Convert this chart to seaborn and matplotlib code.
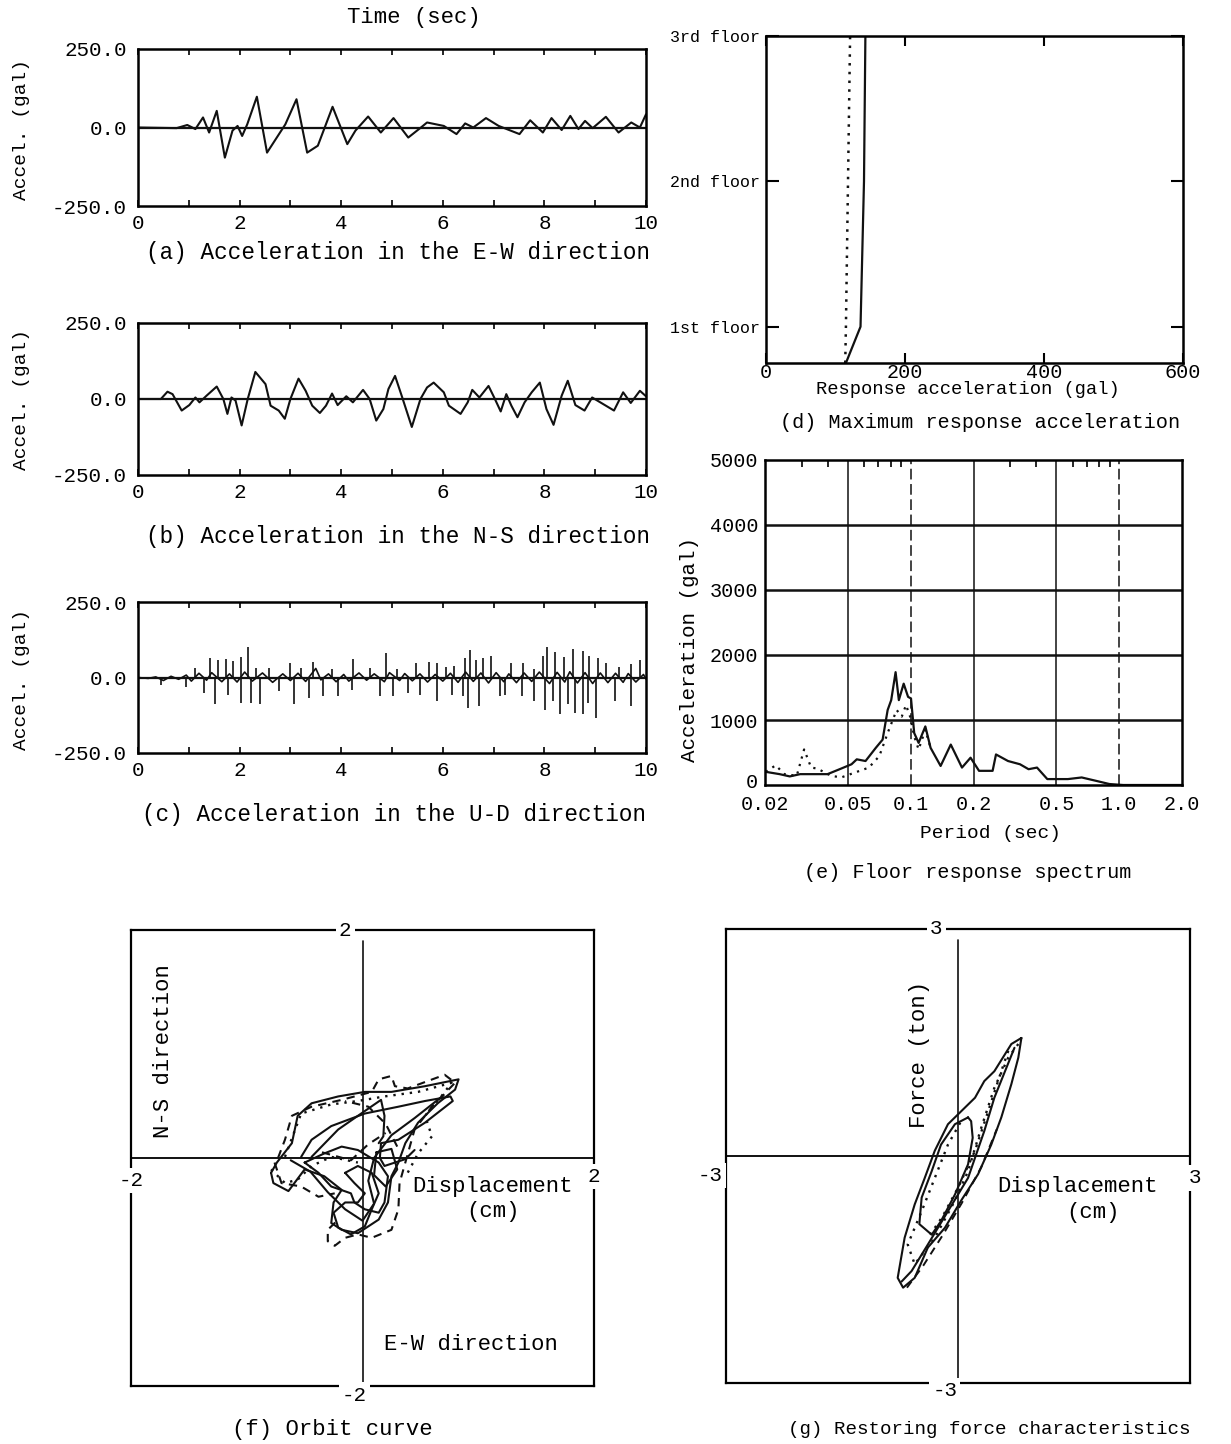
import matplotlib
matplotlib.use("Agg")
import matplotlib.pyplot as plt
import matplotlib.transforms as mtransforms
import seaborn as sns

sns.set_theme(style="white")
plt.rcParams["font.family"] = ["Liberation Mono", "DejaVu Sans Mono"]
plt.rcParams["axes.edgecolor"] = "black"
plt.rcParams["axes.linewidth"] = 1.8
plt.rcParams["text.color"] = "black"
plt.rcParams["xtick.color"] = "black"
plt.rcParams["ytick.color"] = "black"

INK = "#111111"
DASHED = (0, (4, 3))
DOTTED = (0, (1, 2.5))

# ---------------- time histories (sec, gal) ----------------
ew_time = [0.0, 0.76, 0.97, 1.13, 1.28, 1.40, 1.55, 1.71, 1.86, 1.96, 2.05, 2.15, 2.34, 2.54,
           2.90, 3.12, 3.33, 3.54, 3.83, 4.12, 4.28, 4.53, 4.78, 5.03, 5.32, 5.57, 5.69, 6.02,
           6.27, 6.44, 6.60, 6.85, 7.10, 7.51, 7.72, 7.97, 8.14, 8.34, 8.51, 8.67, 8.80, 8.95,
           9.21, 9.46, 9.71, 9.88, 10.0]
ew_accel = [0, -2, 8, -5, 32, -16, 53, -96, -10, 5, -27, 10, 98, -80,
            10, 90, -80, -58, 66, -53, -10, 35, -16, 30, -32, 0, 16, 5,
            -21, 13, 0, 30, 5, -21, 23, -16, 30, -8, 37, -5, 21, -2,
            34, -16, 16, 0, 42]

ns_time = [0.0, 0.45, 0.58, 0.68, 0.86, 1.01, 1.13, 1.21, 1.35, 1.55,
           1.68, 1.76, 1.84, 1.92, 2.04, 2.16, 2.31, 2.51, 2.61, 2.77,
           2.89, 3.00, 3.16, 3.30, 3.43, 3.58, 3.70, 3.82, 3.93, 4.10,
           4.23, 4.43, 4.56, 4.69, 4.83, 4.93, 5.06, 5.19, 5.39, 5.56,
           5.69, 5.82, 6.02, 6.12, 6.35, 6.49, 6.58, 6.72, 6.90, 7.02,
           7.14, 7.25, 7.35, 7.47, 7.61, 7.75, 7.91, 8.04, 8.18, 8.34,
           8.46, 8.61, 8.79, 8.94, 9.10, 9.37, 9.55, 9.70, 9.88, 10.0]
ns_accel = [0, 0, 24, 16, -38, -20, 5, -11, 11, 41,
            0, -49, 5, -5, -87, 0, 89, 49, -22, -38,
            -65, 0, 67, 27, -22, -46, -22, 18, -20, 9,
            -11, 30, 0, -71, -33, 33, 76, 11, -92, 0,
            38, 54, 22, -22, -49, -11, 30, 5, 43, 2,
            -41, 16, -22, -60, -11, 22, 54, -33, -85, 11,
            60, -20, -38, 5, -11, -38, 22, -13, 27, 9]

ud_base_time = [0.0, 0.2, 0.35, 0.5, 0.65, 0.8, 0.95, 1.05, 1.2, 1.35,
                1.45, 1.65, 1.8, 1.95, 2.1, 2.25, 2.45, 2.65, 2.85, 3.0,
                3.15, 3.3, 3.5, 3.6, 3.75, 3.9, 4.05, 4.15, 4.35, 4.5,
                4.65, 4.85, 4.95, 5.15, 5.25, 5.4, 5.55, 5.7, 5.85, 6.0,
                6.15, 6.3, 6.45, 6.6, 6.75, 6.9, 7.05, 7.2, 7.3, 7.45,
                7.6, 7.75, 7.9, 8.1, 8.25, 8.4, 8.5, 8.65, 8.8, 8.95,
                9.1, 9.25, 9.4, 9.55, 9.65, 9.8, 9.95, 10.0]
ud_base_accel = [0, -3, 2, -10, 4, -6, 8, -12, 14, -9,
                 16, -14, 12, -15, 18, -12, 15, -16, 12, -10,
                 14, -13, 30, -8, 12, -14, 10, -12, 15, -9,
                 12, -14, 16, -10, 13, -11, 12, -15, 10, -12,
                 14, -16, 18, -13, 15, -18, 16, -14, 12, -17,
                 15, -13, 18, -20, 17, -15, 19, -18, 16, -20,
                 15, -17, 14, -16, 13, -15, 10, -5]
ud_up_time = [1.12, 1.41, 1.58, 1.74, 1.87, 2.03, 2.16, 2.32, 2.57, 2.99,
              3.20, 3.44, 3.82, 4.23, 4.56, 4.88, 5.10, 5.48, 5.73, 5.89,
              6.06, 6.22, 6.43, 6.54, 6.66, 6.80, 6.95, 7.34, 7.58, 7.80,
              7.97, 8.05, 8.20, 8.38, 8.56, 8.75, 8.88, 9.05, 9.21, 9.46,
              9.71, 9.88]
ud_up_accel = [33, 63, 58, 60, 55, 69, 101, 30, 30, 47,
               33, 50, 28, 61, 30, 80, 28, 47, 52, 47,
               36, 39, 63, 90, 58, 63, 72, 47, 47, 28,
               72, 101, 83, 69, 96, 87, 72, 63, 47, 36,
               44, 58]
ud_down_time = [0.46, 0.95, 1.29, 1.51, 1.78, 2.03, 2.22, 2.41, 2.78, 3.07,
                3.36, 3.65, 3.94, 4.22, 4.77, 5.02, 5.31, 5.56, 5.89, 6.18,
                6.39, 6.50, 6.72, 7.12, 7.22, 7.55, 7.80, 8.01, 8.16, 8.30,
                8.46, 8.61, 8.75, 8.86, 9.02, 9.38, 9.71]
ud_down_accel = [-24, -33, -51, -87, -57, -84, -84, -87, -46, -87,
                 -68, -62, -62, -40, -62, -62, -51, -57, -78, -57,
                 -62, -100, -95, -62, -57, -62, -78, -106, -78, -122,
                 -89, -117, -122, -84, -133, -78, -95]

time_ticks = [0, 2, 4, 6, 8, 10]
accel_ticks = [-250, 0, 250]
accel_labels = ["-250.0", "0.0", "250.0"]

# ---------------- maximum response acceleration ----------------
floor_level = [0.75, 1, 2, 3]
max_acc_solid = [115, 136, 141, 143]
max_acc_dotted = [114, 115, 118, 121]
floor_ticks = [1, 2, 3]
floor_names = ["1st floor", "2nd floor", "3rd floor"]
resp_ticks = [0, 200, 400, 600]

# ---------------- floor response spectrum ----------------
spec_period_solid = [0.0202, 0.0235, 0.0263, 0.0295, 0.0343, 0.0399, 0.0464, 0.0520, 0.0551, 0.0607,
                     0.0680, 0.0733, 0.0775, 0.0806, 0.0846, 0.0877, 0.0925, 0.0971, 0.1003, 0.1039,
                     0.1091, 0.1175, 0.1245, 0.1391, 0.1556, 0.1761, 0.1936, 0.2126, 0.2470, 0.2564,
                     0.2928, 0.3342, 0.3674, 0.4033, 0.4519, 0.4969, 0.5673, 0.6606, 0.7697, 0.8969,
                     1.045, 2.0]
spec_acc_solid = [202, 167, 132, 167, 167, 167, 253, 319, 395, 369,
                  572, 698, 1154, 1306, 1736, 1306, 1559, 1356, 1331, 800,
                  648, 901, 572, 293, 622, 268, 420, 218, 218, 470,
                  369, 319, 243, 268, 91, 91, 91, 116, 66, 15,
                  0, 0]
spec_period_dotted = [0.0202, 0.0225, 0.0248, 0.0284, 0.0308, 0.0333, 0.0356, 0.0415, 0.0464, 0.0540,
                      0.0630, 0.0707, 0.0775, 0.0856, 0.0906, 0.0949, 0.0993, 0.1039, 0.1091, 0.1175,
                      0.1245]
spec_acc_dotted = [202, 303, 167, 142, 547, 268, 253, 142, 116, 192,
                   268, 445, 800, 1154, 1053, 1230, 1053, 749, 547, 850,
                   572]
period_ticks = [0.02, 0.05, 0.1, 0.2, 0.5, 1.0, 2.0]
period_labels = ["0.02", "0.05", "0.1", "0.2", "0.5", "1.0", "2.0"]
period_minor = [0.03, 0.04, 0.06, 0.07, 0.08, 0.09, 0.3, 0.4, 0.6, 0.7, 0.8, 0.9]
spec_ticks = [0, 1000, 2000, 3000, 4000, 5000]

# ---------------- orbit curve (E-W, N-S displacement, cm) ----------------
orbit_solid_outer = [(-0.79, -0.13), (-0.74, -0.04), (-0.61, 0.13), (-0.56, 0.37), (-0.44, 0.48),
                     (-0.21, 0.54), (0.02, 0.58), (0.25, 0.58), (0.54, 0.63), (0.83, 0.69),
                     (0.80, 0.60), (0.65, 0.48), (0.48, 0.31), (0.37, 0.13), (0.31, -0.04),
                     (0.25, -0.16), (0.22, -0.39), (0.14, -0.54), (-0.04, -0.66), (-0.18, -0.63),
                     (-0.27, -0.57), (-0.25, -0.39), (-0.18, -0.28), (-0.33, -0.16), (-0.50, -0.10),
                     (-0.64, -0.29), (-0.77, -0.22), (-0.79, -0.13)]
orbit_solid_diag = [(-0.53, 0.01), (-0.44, 0.16), (-0.27, 0.28), (0.02, 0.39), (0.31, 0.45),
                    (0.54, 0.50), (0.76, 0.54), (0.78, 0.50), (0.54, 0.31), (0.31, 0.16),
                    (0.16, 0.13), (0.15, 0.0), (0.19, -0.07), (0.37, -0.01), (0.45, 0.07)]
orbit_solid_lower = [(-0.15, -0.13), (-0.04, -0.07), (0.08, -0.13), (0.14, -0.31), (0.08, -0.45),
                     (0.02, -0.60), (-0.10, -0.67), (-0.21, -0.61), (-0.25, -0.48), (-0.15, -0.39),
                     (-0.04, -0.39), (0.02, -0.31), (-0.07, -0.22), (-0.15, -0.13)]
orbit_solid_mid = [(-0.50, -0.04), (-0.33, 0.04), (-0.18, 0.10), (-0.04, 0.07), (0.14, -0.04),
                   (0.22, -0.16), (0.19, -0.39), (0.14, -0.48), (0.02, -0.45), (-0.07, -0.39),
                   (-0.10, -0.31), (-0.27, -0.25), (-0.38, -0.13), (-0.50, -0.04)]
orbit_solid_link = [(-0.44, 0.01), (-0.21, 0.25), (-0.04, 0.37), (0.16, 0.51), (0.19, 0.37),
                    (0.18, 0.19), (0.14, 0.13)]
orbit_solid_cross = [(-0.62, -0.02), (-0.45, -0.12), (-0.30, -0.30), (-0.15, -0.45), (0.0, -0.55),
                     (0.10, -0.40), (0.05, -0.20), (0.10, 0.0), (0.25, 0.20), (0.45, 0.35),
                     (0.70, 0.55)]
orbit_solid_small = [(0.12, 0.05), (0.25, 0.08), (0.30, -0.10), (0.20, -0.25), (0.10, -0.15),
                     (0.12, 0.05)]
orbit_dashed_outer = [(-0.73, 0.0), (-0.67, 0.16), (-0.61, 0.37), (-0.44, 0.45), (-0.18, 0.51),
                      (0.08, 0.58), (0.14, 0.69), (0.25, 0.72), (0.28, 0.63), (0.39, 0.61),
                      (0.71, 0.73), (0.80, 0.66), (0.60, 0.45), (0.45, 0.25), (0.37, -0.04),
                      (0.32, -0.22), (0.31, -0.45), (0.25, -0.63), (0.08, -0.70), (-0.04, -0.67),
                      (-0.15, -0.70), (-0.24, -0.77), (-0.30, -0.73), (-0.30, -0.63), (-0.21, -0.54)]
orbit_dashed_lower = [(-0.76, -0.04), (-0.70, -0.22), (-0.53, -0.25), (-0.38, -0.34), (-0.24, -0.31)]
orbit_dashed_inner = [(0.30, 0.10), (0.20, 0.30), (0.05, 0.45), (-0.15, 0.50)]
orbit_dashed_mid = [(-0.35, 0.05), (-0.10, -0.02), (0.05, 0.12), (0.20, 0.22)]
orbit_dotted_upper = [(-0.67, 0.01), (-0.53, 0.39), (-0.27, 0.47), (-0.04, 0.50), (0.19, 0.54),
                      (0.48, 0.58), (0.77, 0.66), (0.68, 0.54), (0.54, 0.37), (0.60, 0.19),
                      (0.48, 0.04), (0.39, -0.13)]
orbit_dotted_lower = [(-0.79, -0.10), (-0.67, -0.22), (-0.56, -0.19), (-0.44, -0.07), (-0.27, 0.01),
                      (-0.04, -0.04)]

# ---------------- restoring force (displacement cm, force ton) ----------------
force_solid_outer = [(0.82, 1.56), (0.69, 1.48), (0.47, 1.12), (0.34, 0.99), (0.22, 0.77),
                     (0.04, 0.59), (-0.13, 0.42), (-0.30, 0.07), (-0.43, -0.29), (-0.56, -0.64),
                     (-0.69, -1.08), (-0.78, -1.61), (-0.71, -1.74), (-0.56, -1.61), (-0.39, -1.21),
                     (-0.17, -0.95), (0.04, -0.59), (0.26, -0.24), (0.43, 0.15), (0.56, 0.51),
                     (0.69, 0.95), (0.78, 1.30), (0.82, 1.56)]
force_solid_inner = [(0.13, 0.51), (-0.04, 0.42), (-0.22, 0.15), (-0.34, -0.20), (-0.47, -0.55),
                     (-0.50, -0.90), (-0.34, -1.04), (-0.22, -0.86), (-0.04, -0.51), (0.13, -0.11),
                     (0.19, 0.24), (0.17, 0.46), (0.13, 0.51)]
force_solid_mid = [(0.73, 1.43), (0.47, 0.77), (0.34, 0.33), (0.13, -0.29), (-0.13, -0.73),
                   (-0.39, -1.17), (-0.60, -1.52), (-0.73, -1.66)]
force_dotted_a = [(0.78, 1.48), (0.65, 1.30), (0.47, 0.90), (0.30, 0.37), (0.13, -0.20),
                  (-0.04, -0.59), (-0.30, -1.08), (-0.56, -1.43), (-0.65, -1.17), (-0.47, -0.73),
                  (-0.30, -0.29), (-0.13, 0.15), (0.04, 0.46)]
force_dotted_b = [(0.65, 1.39), (0.56, 1.12), (0.39, 0.59), (0.22, 0.07), (0.0, -0.42),
                  (-0.20, -0.80), (-0.40, -1.10)]
force_dashed = [(-0.66, -1.74), (-0.45, -1.45), (-0.20, -1.05), (0.05, -0.62), (0.30, -0.15),
                (0.50, 0.35)]

W, H = 1231, 1444
fig = plt.figure(figsize=(W / 100, H / 100), dpi=100)
fig.patch.set_facecolor("white")


def px_axes(x0, y0, x1, y1):
    """Axes from a pixel box (left, top, right, bottom)."""
    return fig.add_axes([x0 / W, 1 - y1 / H, (x1 - x0) / W, (y1 - y0) / H])


def fig_text(x, y, s, **kw):
    kw.setdefault("ha", "center")
    kw.setdefault("va", "center")
    fig.text(x / W, 1 - y / H, s, **kw)


def draw(ax, x, y, ls="-", lw=1.4):
    sns.lineplot(x=list(x), y=list(y), ax=ax, sort=False, estimator=None,
                 color=INK, linewidth=lw, linestyle=ls)


def draw_pts(ax, pts, ls="-", lw=1.4):
    draw(ax, [p[0] for p in pts], [p[1] for p in pts], ls, lw)


def style_time_axis(ax):
    ax.set_xlim(0, 10)
    ax.set_ylim(-250, 250)
    ax.set_xticks(time_ticks)
    ax.set_xticklabels([str(t) for t in time_ticks])
    ax.set_xticks([1, 3, 5, 7, 9], minor=True)
    ax.set_yticks(accel_ticks)
    ax.set_yticklabels(accel_labels)
    ax.tick_params(axis="x", which="both", direction="in", length=4, width=1.2,
                   top=True, bottom=True, labelsize=15, pad=6)
    ax.tick_params(axis="y", length=0, labelsize=15, pad=8)
    ax.axhline(0, color=INK, lw=1.6, zorder=1)
    ax.set_xlabel("")
    ax.set_ylabel("")


CAP = 16.3

# (a) E-W acceleration
ax_a = px_axes(138, 49, 646, 206)
draw(ax_a, ew_time, ew_accel, lw=1.5)
style_time_axis(ax_a)
fig_text(414, 18, "Time (sec)", fontsize=16)
fig_text(22, 130, "Accel. (gal)", fontsize=14, rotation=90)
fig_text(398, 253, "(a) Acceleration in the E-W direction", fontsize=CAP)

# (b) N-S acceleration
ax_b = px_axes(138, 323, 646, 475)
draw(ax_b, ns_time, ns_accel, lw=1.5)
style_time_axis(ax_b)
fig_text(22, 400, "Accel. (gal)", fontsize=14, rotation=90)
fig_text(398, 537, "(b) Acceleration in the N-S direction", fontsize=CAP)

# (c) U-D acceleration
ax_c = px_axes(138, 602, 646, 753)
draw(ax_c, ud_base_time, ud_base_accel, lw=1.2)
ax_c.vlines(ud_up_time, 0, ud_up_accel, color=INK, lw=1.2)
ax_c.vlines(ud_down_time, 0, ud_down_accel, color=INK, lw=1.2)
style_time_axis(ax_c)
fig_text(22, 680, "Accel. (gal)", fontsize=14, rotation=90)
fig_text(394, 815, "(c) Acceleration in the U-D direction", fontsize=CAP)

# (d) Maximum response acceleration
ax_d = px_axes(766, 36, 1183, 363)
draw(ax_d, max_acc_solid, floor_level, lw=1.6)
draw(ax_d, max_acc_dotted, floor_level, ls=DOTTED, lw=1.8)
ax_d.set_xlim(0, 600)
ax_d.set_ylim(0.75, 3)
ax_d.set_yticks(floor_ticks)
ax_d.set_yticklabels(floor_names)
ax_d.set_xticks(resp_ticks)
ax_d.set_xticklabels([str(v) for v in resp_ticks])
ax_d.tick_params(axis="y", direction="in", length=9, width=1.5, left=True, right=True,
                 labelsize=12, pad=4)
ax_d.tick_params(axis="x", direction="in", length=7, width=1.5, top=True, bottom=True,
                 labelsize=14.5, pad=0)
ax_d.set_xlabel("")
ax_d.set_ylabel("")
fig_text(968, 390, "Response acceleration (gal)", fontsize=13.5)
fig_text(980, 423, "(d) Maximum response acceleration", fontsize=14.5)

# (e) Floor response spectrum
ax_e = px_axes(765, 460, 1182, 785)
for lvl in [1000, 2000, 3000, 4000]:
    ax_e.axhline(lvl, color=INK, lw=1.8, zorder=1)
for per in [0.05, 0.2, 0.5]:
    ax_e.axvline(per, color=INK, lw=1.1, zorder=1)
for per in [0.1, 1.0]:
    ax_e.axvline(per, color=INK, lw=1.1, ls=(0, (7, 3)), zorder=1)
draw(ax_e, spec_period_solid, spec_acc_solid, lw=1.6)
draw(ax_e, spec_period_dotted, spec_acc_dotted, ls=DOTTED, lw=1.6)
ax_e.set_xscale("log")
ax_e.set_xlim(0.02, 2.0)
ax_e.set_ylim(0, 5000)
ax_e.set_xticks(period_ticks)
ax_e.set_xticklabels(period_labels)
ax_e.set_xticks(period_minor, minor=True)
ax_e.set_xticklabels([], minor=True)
ax_e.set_yticks(spec_ticks)
ax_e.set_yticklabels([str(v) for v in spec_ticks])
ax_e.tick_params(axis="x", which="major", length=0, labelsize=14.5, pad=7)
ax_e.tick_params(axis="x", which="minor", direction="in", length=5, width=1.2,
                 top=True, bottom=False)
ax_e.tick_params(axis="y", length=0, labelsize=14.5, pad=5)
lift = mtransforms.ScaledTranslation(0, 5 / 100, fig.dpi_scale_trans)
for lab in ax_e.get_yticklabels():
    if lab.get_text() == "0":
        lab.set_transform(lab.get_transform() + lift)
ax_e.set_xlabel("")
ax_e.set_ylabel("")
fig_text(690, 650, "Acceleration (gal)", fontsize=15, rotation=90)
fig_text(990, 834, "Period (sec)", fontsize=14)
fig_text(968, 872, "(e) Floor response spectrum", fontsize=14.5)


def cross_axes(ax, lim):
    ax.set_xlim(-lim, lim)
    ax.set_ylim(-lim, lim)
    ax.set_xticks([])
    ax.set_yticks([])
    for sp in ax.spines.values():
        sp.set_linewidth(1.6)
    ax.axhline(0, color=INK, lw=1.4, zorder=1)
    ax.axvline(0, color=INK, lw=1.2, zorder=1, ymax=0.975)
    ax.set_xlabel("")
    ax.set_ylabel("")


def edge_label(ax, x, y, s):
    ax.text(x, y, s, ha="center", va="center", fontsize=15, zorder=6, clip_on=False,
            bbox=dict(boxstyle="square,pad=0.15", fc="white", ec="none"))


# (f) Orbit curve
ax_f = px_axes(131, 930, 594, 1386)
for path in [orbit_solid_outer, orbit_solid_diag, orbit_solid_lower, orbit_solid_mid,
             orbit_solid_link, orbit_solid_cross, orbit_solid_small]:
    draw_pts(ax_f, path, lw=1.5)
for path in [orbit_dashed_outer, orbit_dashed_lower, orbit_dashed_inner, orbit_dashed_mid]:
    draw_pts(ax_f, path, ls=DASHED, lw=1.5)
for path in [orbit_dotted_upper, orbit_dotted_lower]:
    draw_pts(ax_f, path, ls=DOTTED, lw=1.7)
cross_axes(ax_f, 2)
edge_label(ax_f, -0.15, 2.0, "2")
edge_label(ax_f, -0.07, -2.08, "-2")
edge_label(ax_f, -2.0, -0.2, "-2")
edge_label(ax_f, 2.0, -0.16, "2")
ax_f.text(-1.72, 0.94, "N-S direction", rotation=90, ha="center", va="center", fontsize=16)
ax_f.text(1.12, -0.25, "Displacement", ha="center", va="center", fontsize=16)
ax_f.text(1.13, -0.47, "(cm)", ha="center", va="center", fontsize=16)
ax_f.text(0.94, -1.64, "E-W direction", ha="center", va="center", fontsize=16)
fig_text(332, 1430, "(f) Orbit curve", fontsize=16)

# (g) Restoring force characteristics
ax_g = px_axes(726, 929, 1190, 1383)
for path in [force_solid_outer, force_solid_inner, force_solid_mid]:
    draw_pts(ax_g, path, lw=1.5)
for path in [force_dotted_a, force_dotted_b]:
    draw_pts(ax_g, path, ls=DOTTED, lw=1.7)
draw_pts(ax_g, force_dashed, ls=DASHED, lw=1.4)
cross_axes(ax_g, 3)
edge_label(ax_g, -0.28, 3.0, "3")
edge_label(ax_g, -0.17, -3.1, "-3")
edge_label(ax_g, -3.2, -0.26, "-3")
edge_label(ax_g, 3.06, -0.29, "3")
ax_g.text(-0.5, 1.34, "Force (ton)", rotation=90, ha="center", va="center", fontsize=16)
ax_g.text(1.55, -0.40, "Displacement", ha="center", va="center", fontsize=16)
ax_g.text(1.75, -0.75, "(cm)", ha="center", va="center", fontsize=16)
fig_text(989, 1430, "(g) Restoring force characteristics", fontsize=13.8)

fig.savefig("out.png", dpi=100, facecolor="white")
